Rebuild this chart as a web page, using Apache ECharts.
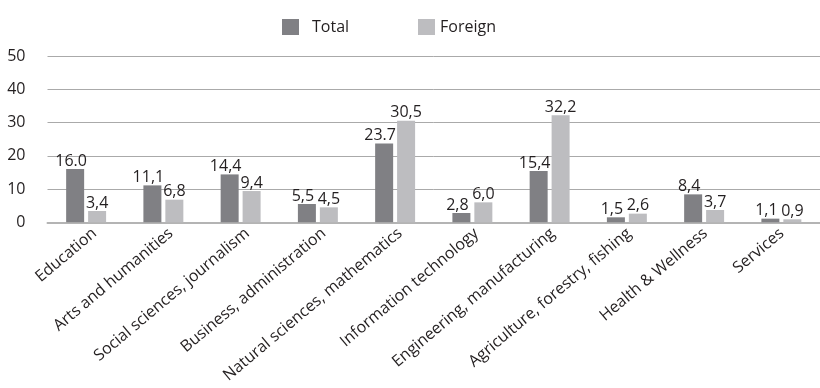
<!DOCTYPE html>
<html>
<head>
<meta charset="utf-8">
<script src="https://cdn.jsdelivr.net/npm/echarts@6/dist/echarts.min.js"></script>
<style>
  html, body { margin: 0; padding: 0; background: #ffffff; }
  #chart { width: 820px; height: 388px; }
</style>
</head>
<body>
<div id="chart"></div>
<script>
// Fields of study
const categories = [
  'Education',
  'Arts and humanities',
  'Social sciences, journalism',
  'Business, administration',
  'Natural sciences, mathematics',
  'Information technology',
  'Engineering, manufacturing',
  'Agriculture, forestry, fishing',
  'Health & Wellness',
  'Services'
];

// Share of students by field, %
const totalValues   = [16.0, 11.1, 14.4, 5.5, 23.7, 2.8, 15.4, 1.5, 8.4, 1.1];
const foreignValues = [3.4, 6.8, 9.4, 4.5, 30.5, 6.0, 32.2, 2.6, 3.7, 0.9];

// Value labels as printed (mixed decimal separators)
const totalLabels   = ['16.0', '11,1', '14,4', '5,5', '23.7', '2,8', '15,4', '1,5', '8,4', '1,1'];
const foreignLabels = ['3,4', '6,8', '9,4', '4,5', '30,5', '6,0', '32,2', '2,6', '3,7', '0,9'];

// Value axis ticks
const yTicks = [0, 10, 20, 30, 40, 50];

const FONT = '"Open Sans", sans-serif';
const TEXT = '#231f20';
const DARK = '#808084';
const LIGHT = '#bdbdc0';

const chart = echarts.init(document.getElementById('chart'), null, { renderer: 'canvas' });

const labelBase = {
  show: true,
  position: 'top',
  distance: 0,
  fontFamily: FONT,
  fontSize: 16,
  color: TEXT
};

// Plot frame; the second grid carries only the slanted category names,
// nudged a little to the right of the bar pairs.
const plotLeft = 47.5, plotRight = -13.5, plotTop = 56, plotBottom = 165.7;
const nameShift = 9;

chart.setOption({
  backgroundColor: '#ffffff',
  animation: false,
  legend: [
    {
      data: ['Total'],
      left: 277, top: 14,
      icon: 'rect', itemWidth: 17, itemHeight: 16,
      textStyle: { fontFamily: FONT, fontSize: 16, color: TEXT, padding: [0, 0, 0, 8] }
    },
    {
      data: ['Foreign'],
      left: 413, top: 14,
      icon: 'rect', itemWidth: 17, itemHeight: 16,
      textStyle: { fontFamily: FONT, fontSize: 16, color: TEXT }
    }
  ],
  grid: [
    { left: plotLeft, right: plotRight, top: plotTop, bottom: plotBottom, containLabel: false },
    { left: plotLeft + nameShift, right: plotRight - nameShift, top: plotTop, bottom: plotBottom, containLabel: false }
  ],
  xAxis: [
    {
      type: 'category',
      gridIndex: 0,
      data: categories,
      axisLine: { show: true, lineStyle: { color: '#b4b4b4', width: 2 } },
      axisTick: { show: false },
      axisLabel: { show: false }
    },
    {
      type: 'category',
      gridIndex: 1,
      data: categories,
      axisLine: { show: false },
      axisTick: { show: false },
      axisLabel: {
        interval: 0,
        rotate: 40,
        margin: 9,
        fontFamily: FONT,
        fontSize: 16,
        color: TEXT
      }
    }
  ],
  yAxis: [
    {
      type: 'value',
      gridIndex: 0,
      min: yTicks[0],
      max: yTicks[yTicks.length - 1],
      interval: yTicks[1] - yTicks[0],
      axisLine: { show: false },
      axisTick: { show: false },
      splitLine: { lineStyle: { color: '#aaaaaa', width: 1 } },
      axisLabel: {
        margin: 22,
        fontFamily: FONT,
        fontSize: 16,
        color: TEXT
      }
    },
    {
      type: 'value',
      gridIndex: 1,
      min: yTicks[0],
      max: yTicks[yTicks.length - 1],
      show: false,
      splitLine: { show: false }
    }
  ],
  series: [
    {
      name: 'Total',
      type: 'bar',
      xAxisIndex: 0,
      yAxisIndex: 0,
      data: totalValues,
      barWidth: 18,
      barGap: '22%',
      itemStyle: { color: DARK },
      label: Object.assign({}, labelBase, {
        offset: [-4, 0],
        formatter: p => totalLabels[p.dataIndex]
      })
    },
    {
      name: 'Foreign',
      type: 'bar',
      xAxisIndex: 0,
      yAxisIndex: 0,
      data: foreignValues,
      barWidth: 18,
      itemStyle: { color: LIGHT },
      label: Object.assign({}, labelBase, {
        formatter: p => foreignLabels[p.dataIndex]
      })
    }
  ]
});
</script>
</body>
</html>
